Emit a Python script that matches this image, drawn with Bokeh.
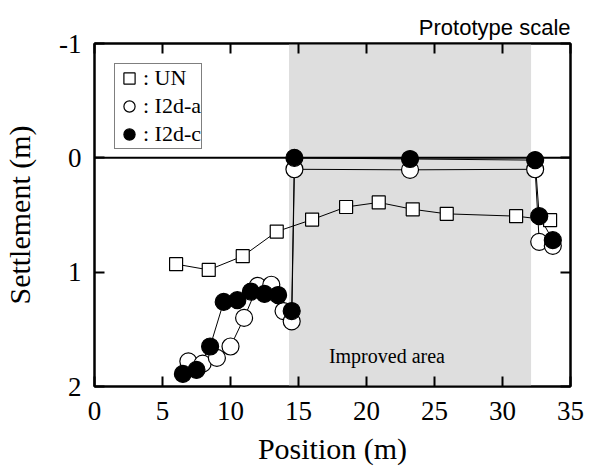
from bokeh.plotting import figure
from bokeh.models import (Range1d, FixedTicker, LinearAxis, BoxAnnotation, Span,
                          Legend, LegendItem, Label)
from bokeh.embed import file_html
from bokeh.resources import INLINE

# ---- data ----
un_x = [6.0, 8.4, 10.9, 13.4, 16.0, 18.5, 20.9, 23.4, 25.9, 31.0, 33.5]
un_y = [0.93, 0.98, 0.86, 0.645, 0.54, 0.43, 0.39, 0.45, 0.49, 0.51, 0.545]

a_x = [6.9, 7.95, 9.0, 10.0, 11.0, 12.0, 13.0, 13.9, 14.5, 14.7, 23.2, 32.4, 32.7, 33.7]
a_y = [1.78, 1.80, 1.75, 1.65, 1.40, 1.12, 1.11, 1.34, 1.43, 0.10, 0.105, 0.10, 0.735, 0.77]

c_x = [6.5, 7.5, 8.5, 9.5, 10.5, 11.5, 12.5, 13.5, 14.5, 14.7, 23.2, 32.4, 32.7, 33.7]
c_y = [1.89, 1.855, 1.65, 1.26, 1.245, 1.17, 1.19, 1.20, 1.34, 0.0, 0.01, 0.02, 0.51, 0.72]

improved_start, improved_end = 14.3, 32.1
improved_label = "Improved area"
improved_label_pos = (21.5, 1.73)

x_ticks = [0, 5, 10, 15, 20, 25, 30, 35]
y_ticks = [-1, 0, 1, 2]
y_tick_labels = ["-1", "0", "1", "2"]

series_labels = [": UN", ": I2d-a", ": I2d-c"]

SERIF = "Liberation Serif"
SANS = "Liberation Sans"

p = figure(width=590, height=468, output_backend="svg", toolbar_location=None,
           x_range=Range1d(0, 35), y_range=Range1d(2, -1),
           min_border_left=94, min_border_right=20, min_border_top=43, min_border_bottom=82,
           x_axis_label="Position (m)", y_axis_label="Settlement (m)")
p.xgrid.visible = False
p.ygrid.visible = False
p.outline_line_color = "black"
p.outline_line_width = 2
p.background_fill_color = "white"
p.border_fill_color = "white"

p.title.text = "Prototype scale"
p.title.align = "right"
p.title.text_font = SANS
p.title.text_font_size = "22px"
p.title.text_font_style = "normal"
p.title.text_color = "black"
p.title.standoff = 7

def style_axis(ax, ticks, labels=True):
    ax.ticker = FixedTicker(ticks=ticks)
    ax.major_tick_in = 10
    ax.major_tick_out = 0
    ax.minor_tick_in = 0
    ax.minor_tick_out = 0
    ax.major_tick_line_width = 2
    ax.major_tick_line_color = "black"
    ax.axis_line_width = 2
    ax.axis_line_color = "black"
    if labels:
        ax.major_label_text_font = SERIF
        ax.major_label_text_font_size = "27px"
        ax.major_label_text_color = "black"
        ax.axis_label_text_font = SERIF
        ax.axis_label_text_font_size = "30px"
        ax.axis_label_text_font_style = "normal"
        ax.axis_label_text_color = "black"
    else:
        ax.major_label_text_font_size = "1px"
        ax.major_label_text_color = None
        ax.major_label_standoff = 0

style_axis(p.xaxis[0], x_ticks)
p.xaxis[0].major_label_standoff = 15
p.xaxis[0].axis_label_standoff = 9
style_axis(p.yaxis[0], y_ticks)
p.yaxis[0].major_label_overrides = {t: s for t, s in zip(y_ticks, y_tick_labels)}
p.yaxis[0].major_label_standoff = 13
p.yaxis[0].axis_label_standoff = 20

top_ax = LinearAxis()
style_axis(top_ax, x_ticks, labels=False)
p.add_layout(top_ax, "above")
right_ax = LinearAxis()
style_axis(right_ax, y_ticks, labels=False)
p.add_layout(right_ax, "right")

# shaded improved area and zero line
p.add_layout(BoxAnnotation(left=improved_start, right=improved_end,
                           fill_color="#dedede", fill_alpha=1.0, line_color=None,
                           level="underlay"))
p.add_layout(Span(location=0, dimension="width", line_color="black", line_width=2,
                  level="underlay"))
p.add_layout(Label(x=improved_label_pos[0], y=improved_label_pos[1], text=improved_label,
                   text_font=SERIF, text_font_size="20px", text_align="center",
                   text_baseline="middle", text_color="black"))

# lines
p.line(un_x, un_y, line_color="black", line_width=1)
p.line(a_x, a_y, line_color="black", line_width=1)
p.line(c_x, c_y, line_color="black", line_width=1)

# markers
r_un = p.scatter(un_x, un_y, marker="square", size=13, fill_color="white",
                 line_color="black", line_width=1.2)
r_a = p.scatter(a_x, a_y, marker="circle", size=17, fill_color="white",
                line_color="black", line_width=1.2)
r_c = p.scatter(c_x, c_y, marker="circle", size=17, fill_color="black",
                line_color="black", line_width=1.2)

legend = Legend(items=[LegendItem(label=series_labels[0], renderers=[r_un]),
                       LegendItem(label=series_labels[1], renderers=[r_a]),
                       LegendItem(label=series_labels[2], renderers=[r_c])],
                location="top_left", margin=20, padding=0, spacing=0,
                glyph_width=28, glyph_height=28, label_standoff=0,
                label_text_font=SERIF, label_text_font_size="22px",
                label_text_color="black", border_line_color="black",
                border_line_width=1.5, background_fill_color="white",
                background_fill_alpha=1.0)
p.add_layout(legend, "center")

open("out.html", "w").write(file_html(p, INLINE))
